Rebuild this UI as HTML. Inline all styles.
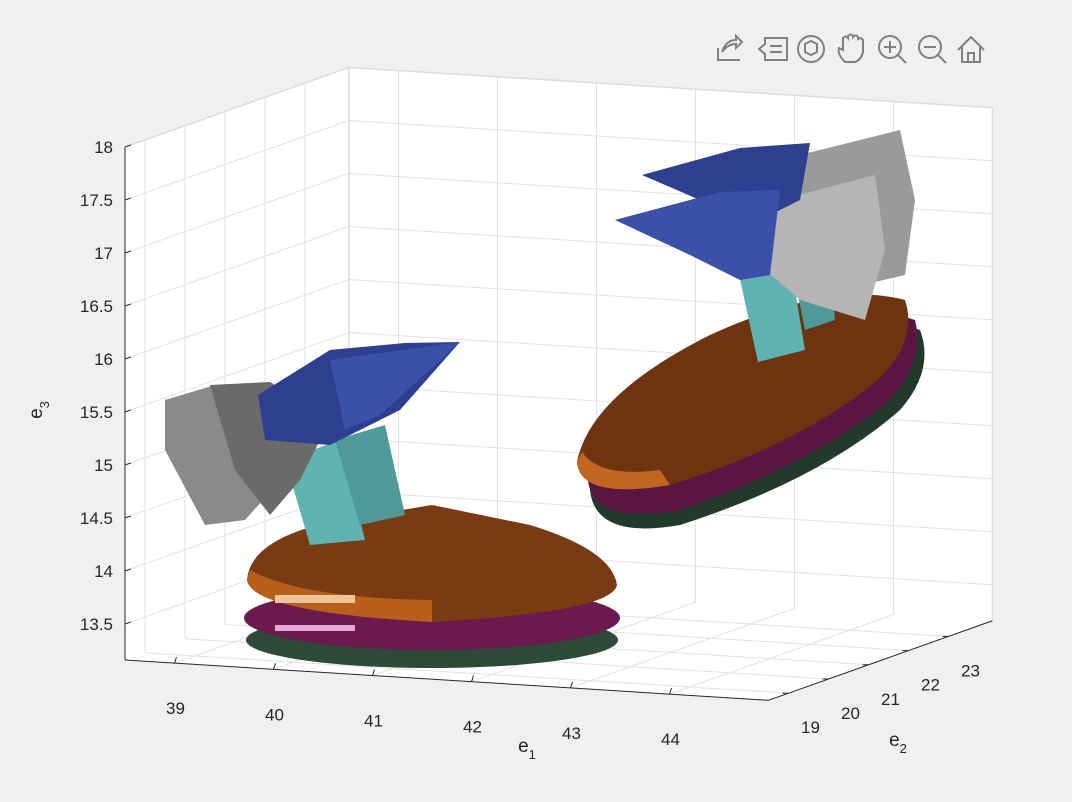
<!DOCTYPE html>
<html><head><meta charset="utf-8"><style>
body{margin:0;background:#f0f0f0;}
svg{display:block;font-family:"Liberation Sans",sans-serif;}
</style></head><body>
<svg id="chart" width="1072" height="802" viewBox="0 0 1072 802">
<rect width="1072" height="802" fill="#f0f0f0"/>
<g id="axes"></g>
<g id="objects">
  <ellipse cx="432" cy="640" rx="186" ry="28" fill="#2d4a38"/>
  <ellipse cx="432" cy="618" rx="188" ry="32" fill="#6b1a4e"/>
  <rect x="275" y="625" width="80" height="6" fill="#e7a6d8"/>
  <path d="M247,580 Q250,540 330,522 L432,505 L530,525 Q612,550 617,585 Q612,612 432,622 Q252,612 247,580Z" fill="#7a3a12"/>
  <path d="M247,580 Q252,612 432,622 L432,600 Q300,598 250,570Z" fill="#b85f1c"/>
  <rect x="275" y="595" width="80" height="8" fill="#f2c49a"/>
  <polygon points="285,460 340,440 365,540 310,545" fill="#5fb3b0"/>
  <polygon points="335,440 385,425 405,515 360,525" fill="#4d9a98"/>
  <polygon points="165,400 215,385 300,420 290,470 245,520 205,525 165,450" fill="#8a8a8a"/>
  <polygon points="210,385 270,382 330,420 300,480 270,515 235,470" fill="#6a6a6a"/>
  <polygon points="258,395 330,350 405,343 460,342 400,410 330,445 265,440" fill="#2e3f8f"/>
  <polygon points="330,360 460,342 380,415 345,430" fill="#3b50a8"/>
  <path d="M590,490 Q600,420 720,360 Q840,300 920,330 Q935,370 900,410 Q820,480 680,525 Q595,540 590,490Z" fill="#213a2c"/>
  <path d="M588,480 Q600,410 720,350 Q840,295 915,320 Q925,360 890,400 Q810,465 680,510 Q592,525 588,480Z" fill="#5a1542"/>
  <path d="M577,462 Q590,395 710,335 Q830,280 905,300 Q918,340 880,378 Q800,445 670,485 Q580,500 577,462Z" fill="#6e3410"/>
  <path d="M577,462 Q580,500 670,485 L660,470 Q600,478 582,452Z" fill="#c06620"/>
  <polygon points="738,270 790,260 805,350 758,362" fill="#5fb3b0"/>
  <polygon points="790,255 830,250 835,320 805,330" fill="#4d9a98"/>
  <polygon points="780,160 900,130 915,200 905,275 840,290 790,245" fill="#9a9a9a"/>
  <polygon points="760,205 875,175 885,250 865,320 800,300 765,270" fill="#b5b5b5"/>
  <polygon points="642,175 740,148 810,143 800,200 770,215 700,200" fill="#2e3f8f"/>
  <polygon points="615,220 720,192 780,190 770,275 740,280 690,255" fill="#3b50a8"/>
</g>
<g id="toolbar" stroke="#808080" stroke-width="2" fill="none">
  <path d="M718,48 v12 h22 M722,52 q4,-12 14,-12 l0,-4 l6,6 l-6,6 l0,-4 q-8,0 -14,8"/>
  <path d="M765,38 h22 v22 h-22 v-6 l-6,-5 l6,-5z M770,46 h12 M770,52 h12"/>
  <circle cx="811" cy="49" r="13"/>
  <path d="M805,44 l6,-3 l6,3 v8 l-6,3 l-6,-3z"/>
  <path d="M845,62 q-8,-8 -6,-14 l4,2 v-12 q3,-3 5,0 v-2 q3,-3 5,0 v1 q3,-3 5,0 v2 q3,-2 5,1 v12 q-2,8 -8,10z"/>
  <circle cx="890" cy="47" r="11"/><path d="M898,55 l8,8 M884,47 h12 M890,41 v12"/>
  <circle cx="930" cy="47" r="11"/><path d="M938,55 l8,8 M924,47 h12"/>
  <path d="M958,50 l13,-13 l13,13 M962,47 v15 h18 v-15 M968,62 v-9 h6 v9"/>
</g>
</svg>
<script>
const e1Ticks=[39,40,41,42,43,44];
const e2Ticks=[19,20,21,22,23];
const e3Ticks=[13.5,14,14.5,15,15.5,16,16.5,17,17.5,18];
const e1Range=[38.5,45];
const e2Range=[18.5,24.1];
const e3Range=[13.16,18];
function P(a,b,c){return [125+(a-38.5)*99+(b-18.5)*40, 660+(a-38.5)*6.2-(b-18.5)*14.2-(c-13.16)*106];}
const NS='http://www.w3.org/2000/svg';
const ax=document.getElementById('axes');
function mk(t,attrs){const e=document.createElementNS(NS,t);for(const k in attrs)e.setAttribute(k,attrs[k]);ax.appendChild(e);return e;}
function line(p,q,st,w){return mk('line',{x1:p[0],y1:p[1],x2:q[0],y2:q[1],stroke:st,'stroke-width':w});}
const [a0,a1]=e1Range,[b0,b1]=e2Range,[c0,c1]=e3Range;
const pts=[P(a0,b0,c1),P(a0,b1,c1),P(a1,b1,c1),P(a1,b1,c0),P(a1,b0,c0),P(a0,b0,c0)];
const bg=mk('polygon',{points:pts.map(p=>p.join(',')).join(' '),fill:'#ffffff'});


const gc='#e2e2e2';
e3Ticks.forEach(v=>{const l1=line(P(a0,b0,v),P(a0,b1,v),gc,1);const l2=line(P(a0,b1,v),P(a1,b1,v),gc,1);});
e1Ticks.forEach(v=>{const l1=line(P(v,b0,c0),P(v,b1,c0),gc,1);const l2=line(P(v,b1,c0),P(v,b1,c1),gc,1);});
e2Ticks.forEach(v=>{const l1=line(P(a0,v,c0),P(a1,v,c0),gc,1);const l2=line(P(a0,v,c0),P(a0,v,c1),gc,1);});
[[P(a0,b0,c0),P(a0,b0,c1)],[P(a0,b0,c0),P(a1,b0,c0)],[P(a1,b0,c0),P(a1,b1,c0)]].forEach(e=>{const l=line(e[0],e[1],'#262626',1);});
[[P(a0,b0,c1),P(a0,b1,c1)],[P(a0,b1,c1),P(a1,b1,c1)],[P(a1,b1,c1),P(a1,b1,c0)],[P(a0,b1,c0),P(a0,b1,c1)]].forEach(e=>{const l=line(e[0],e[1],'#dcdcdc',1.5);});
function txt(x,y,s,anchor,size){const t=mk('text',{x:x,y:y,'font-size':size||17,fill:'#262626','text-anchor':anchor});t.textContent=s;return t;}
e3Ticks.forEach(v=>{const p=P(a0,b0,v);const l=line(p,[p[0]+6,p[1]-2],'#262626',1);const t=txt(p[0]-12,p[1]+6,String(v),'end');});
e1Ticks.forEach(v=>{const p=P(v,b0,c0);const l=line(p,[p[0]+2,p[1]-6],'#262626',1);const t=txt(p[0]+1,p[1]+51,String(v),'middle');});
e2Ticks.forEach(v=>{const p=P(a1,v,c0);const l=line(p,[p[0]-6,p[1]],'#262626',1);const t=txt(p[0]+22,p[1]+40,String(v),'middle');});
const x1=txt(527,752,'e','middle',19);x1.innerHTML='e<tspan font-size="13" dy="7">1</tspan>';


const x2=txt(898,746,'e','middle',19);x2.innerHTML='e<tspan font-size="13" dy="7">2</tspan>';


const x3=mk('text',{x:0,y:0,'font-size':19,fill:'#262626',transform:'translate(42,410) rotate(-90)','text-anchor':'middle'});
x3.innerHTML='e<tspan font-size="13" dy="7">3</tspan>';


</script>
</body></html>
